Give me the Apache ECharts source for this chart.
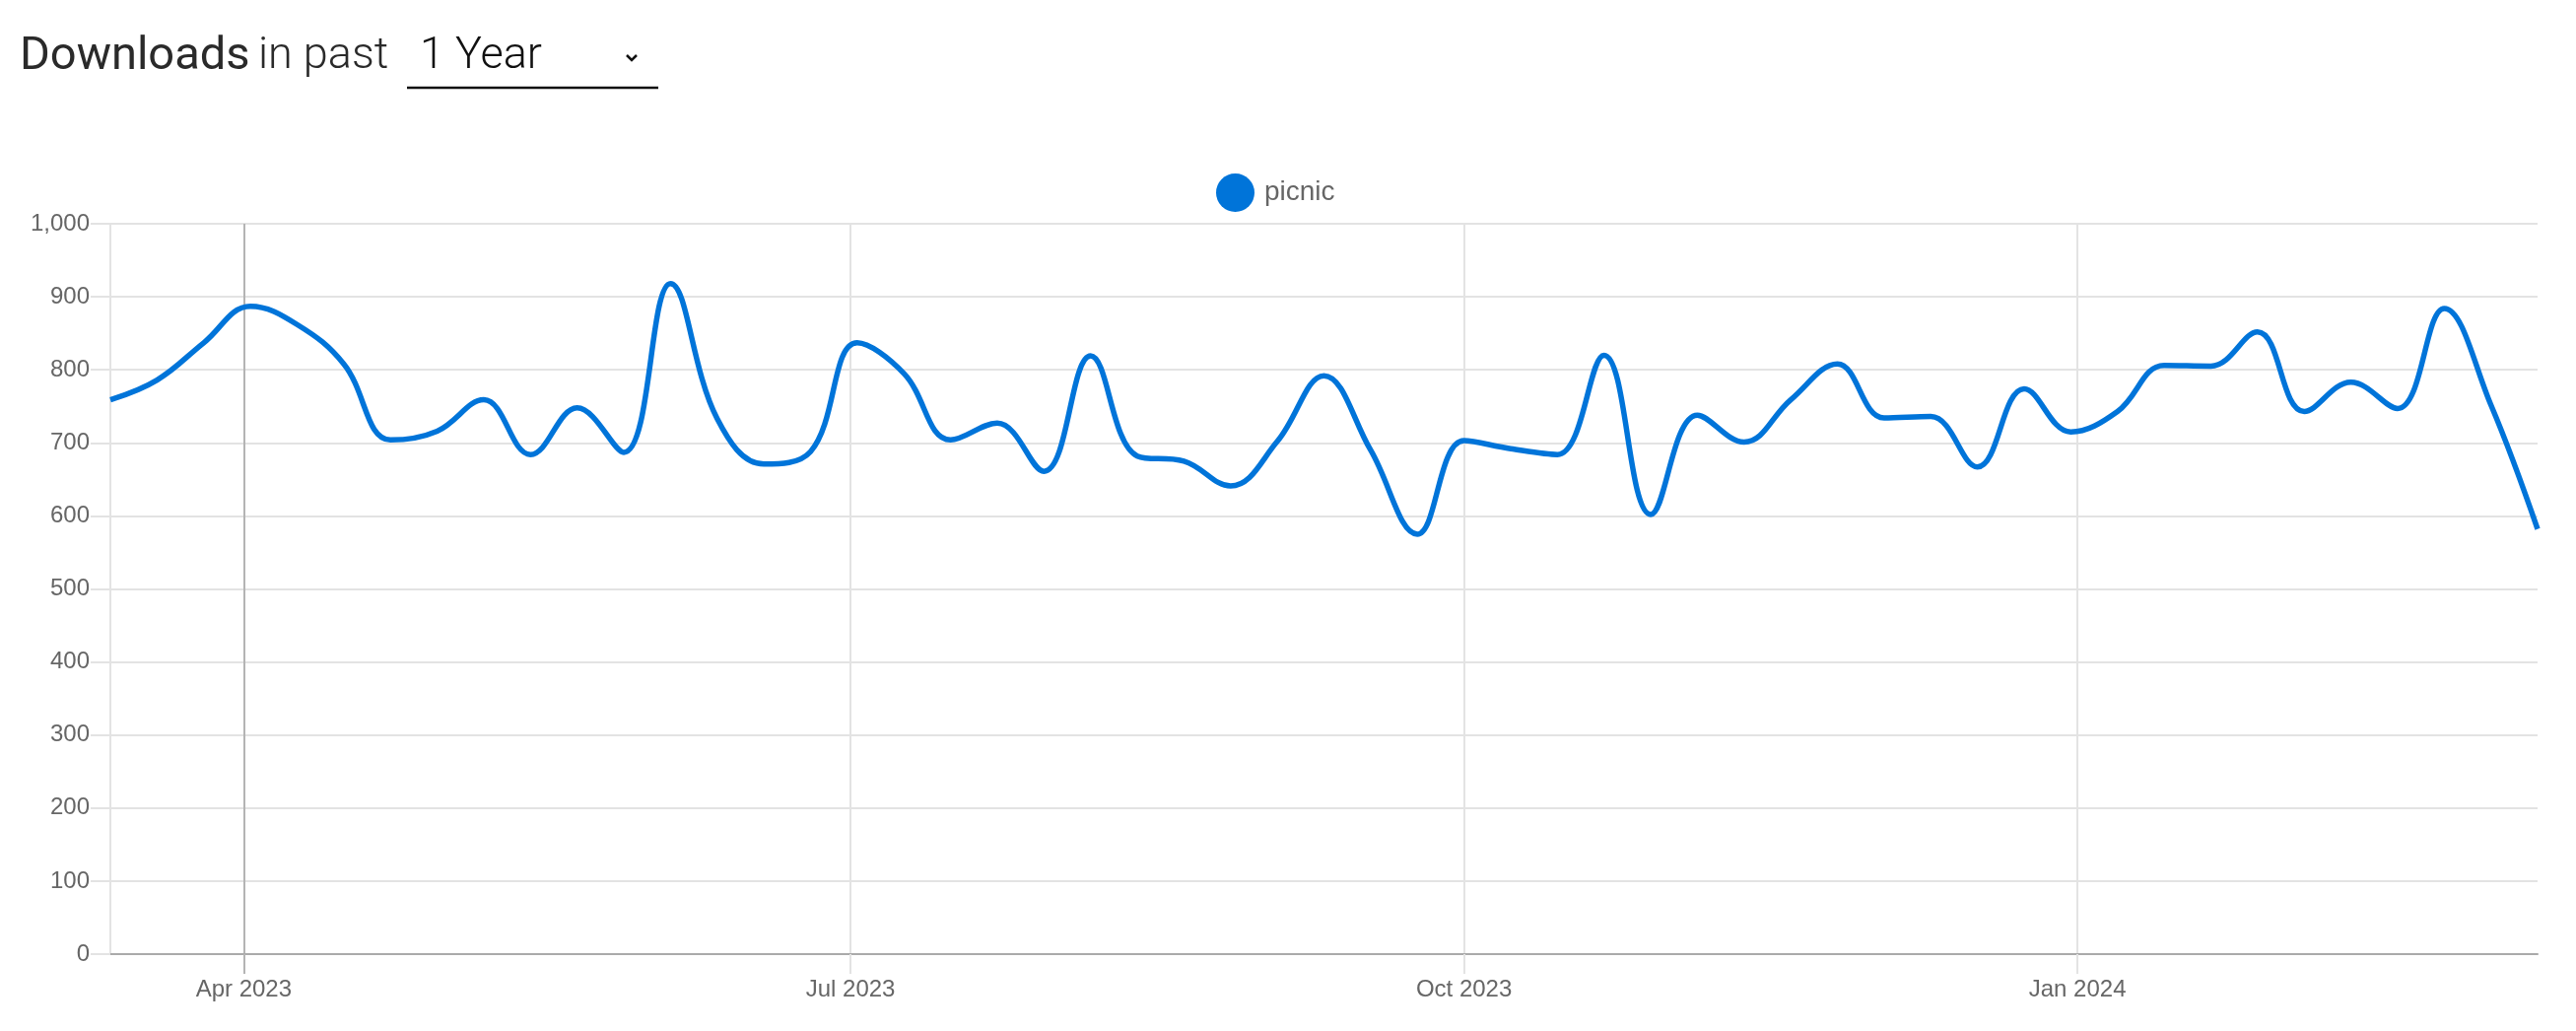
<!DOCTYPE html>
<html>
<head>
<meta charset="utf-8">
<script src="https://cdn.jsdelivr.net/npm/echarts@6/dist/echarts.min.js"></script>
<style>
  html, body { margin: 0; padding: 0; background: #fff; }
  #chart { width: 2614px; height: 1046px; }
</style>
</head>
<body>
<div id="chart"></div>
<script>
// ---- data ----
const weekDates = [
  '2023-03-12','2023-03-19','2023-03-26','2023-04-02','2023-04-09','2023-04-16','2023-04-23','2023-04-30',
  '2023-05-07','2023-05-14','2023-05-21','2023-05-28','2023-06-04','2023-06-11','2023-06-18','2023-06-25',
  '2023-07-02','2023-07-09','2023-07-16','2023-07-23','2023-07-30','2023-08-06','2023-08-13','2023-08-20',
  '2023-08-27','2023-09-03','2023-09-10','2023-09-17','2023-09-24','2023-10-01','2023-10-08','2023-10-15',
  '2023-10-22','2023-10-29','2023-11-05','2023-11-12','2023-11-19','2023-11-26','2023-12-03','2023-12-10',
  '2023-12-17','2023-12-24','2023-12-31','2024-01-07','2024-01-14','2024-01-21','2024-01-28','2024-02-04',
  '2024-02-11','2024-02-18','2024-02-25','2024-03-03','2024-03-10'
];
const picnicDownloads = [
  759, 786, 837, 887, 862, 808, 704, 716,
  759, 684, 748, 687, 918, 733, 671, 688,
  837, 795, 704, 727, 661, 819, 682, 675,
  641, 702, 792, 690, 575, 703, 692, 684,
  820, 602, 738, 701, 759, 808, 734, 736,
  667, 774, 715, 743, 806, 805, 852, 743,
  783, 747, 884, 752, 582
];
const xTickDates = ['2023-04-01', '2023-07-01', '2023-10-01', '2024-01-01'];
const xTickLabels = ['Apr 2023', 'Jul 2023', 'Oct 2023', 'Jan 2024'];
const yTicks = [0, 100, 200, 300, 400, 500, 600, 700, 800, 900, 1000];
const seriesName = 'picnic';

function ts(s) {
  const p = s.split('-').map(Number);
  return Date.UTC(p[0], p[1] - 1, p[2]);
}
const xTickValues = xTickDates.map(ts);
const seriesData = weekDates.map((d, i) => [ts(d), picnicDownloads[i]]);
const xMin = ts(weekDates[0]);
const xMax = ts(weekDates[weekDates.length - 1]);

const chart = echarts.init(document.getElementById('chart'), null, { renderer: 'canvas' });
const tickFont = { fontFamily: 'Liberation Sans, Arial, sans-serif', fontSize: 24, color: '#666' };

chart.setOption({
  backgroundColor: '#ffffff',
  animation: false,
  legend: {
    data: [seriesName],
    left: 1229,
    top: 171,
    icon: 'circle',
    itemWidth: 39,
    itemHeight: 39,
    textStyle: { fontFamily: 'Liberation Sans, Arial, sans-serif', fontSize: 28, color: '#666', padding: [0, 0, 0, 5] }
  },
  grid: { left: 112, right: 39, top: 227, bottom: 78, containLabel: false },
  xAxis: [{
    type: 'value',
    min: xMin,
    max: xMax,
    scale: true,
    axisLine: { show: true, onZero: false, lineStyle: { color: '#aaaaaa', width: 2 } },
    axisTick: { show: true, length: 20, customValues: xTickValues, lineStyle: { color: '#e3e3e3', width: 2 } },
    axisLabel: {
      show: true, margin: 24, customValues: xTickValues,
      ...tickFont,
      formatter: function (v) {
        const idx = xTickValues.indexOf(v);
        return idx >= 0 ? xTickLabels[idx] : '';
      }
    },
    splitLine: { show: true, lineStyle: { color: ['#b4b4b4', '#e3e3e3', '#e3e3e3', '#e3e3e3'], width: 2 } }
  }, {
    type: 'value',
    min: xMin,
    max: xMax,
    scale: true,
    position: 'bottom',
    axisLine: { show: false, onZero: false },
    axisTick: { show: true, length: 20, customValues: [xTickValues[0]], lineStyle: { color: '#b4b4b4', width: 2 } },
    axisLabel: { show: false, customValues: [xTickValues[0]] },
    splitLine: { show: false }
  }],
  yAxis: {
    type: 'value',
    min: 0,
    max: 1000,
    interval: 100,
    axisLine: { show: true, lineStyle: { color: '#e3e3e3', width: 2 } },
    axisTick: { show: true, length: 20, lineStyle: { color: '#e3e3e3', width: 2 } },
    axisLabel: {
      margin: 21, ...tickFont,
      formatter: function (v) { return yTicks.indexOf(v) >= 0 ? v.toLocaleString('en-US') : ''; }
    },
    splitLine: { show: true, lineStyle: { color: '#e3e3e3', width: 2 } }
  },
  series: [{
    name: seriesName,
    type: 'line',
    xAxisIndex: 0,
    data: seriesData,
    smooth: 0.4,
    showSymbol: false,
    symbol: 'circle',
    itemStyle: { color: '#0074d9' },
    lineStyle: { color: '#0074d9', width: 5.5 },
    z: 5
  }],
  graphic: [
    { type: 'text', left: 20, top: 35, style: { text: 'Downloads', fontFamily: 'Roboto, sans-serif', fontWeight: 400, fontSize: 47, fill: '#2a2a2a' } },
    { type: 'text', left: 262, top: 35, style: { text: 'in past', fontFamily: 'Roboto, sans-serif', fontWeight: 300, fontSize: 45, fill: '#2a2a2a' } },
    { type: 'text', left: 426, top: 35, style: { text: '1 Year', fontFamily: 'Roboto, sans-serif', fontWeight: 300, fontSize: 45, fill: '#111' } },
    { type: 'polyline', shape: { points: [[636, 56], [641, 61], [646, 56]] }, style: { stroke: '#111', lineWidth: 2.5, fill: null } },
    { type: 'line', shape: { x1: 413, y1: 89, x2: 668, y2: 89 }, style: { stroke: '#111', lineWidth: 2.5 } }
  ]
});
</script>
</body>
</html>
